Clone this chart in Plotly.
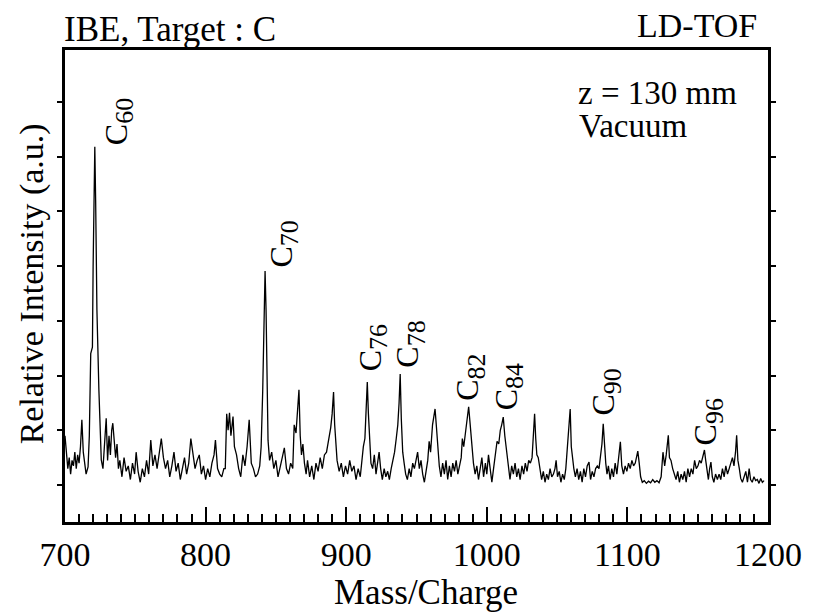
import plotly.graph_objects as go

# Laser-desorption TOF spectrum of the carbon target (mass/charge vs relative intensity)
mass = [
    700, 701, 702, 703, 704, 705, 706, 707, 708, 709, 710, 711, 712, 713, 714, 715,
    716.4, 717.3, 718.3, 719.5, 720.0, 720.9, 721.2, 721.8, 722.7, 724.1, 725.8,
    727, 728, 729.3, 730.3, 731.3, 732.3, 733.2, 734, 735, 736, 737, 738,
    739, 740.5, 742, 743.5, 745, 746.5, 748, 749.5, 750.6, 752, 753.5, 755, 756.5,
    758, 759.5, 761, 762.5, 764, 765.5, 767, 768.5, 770, 771.5, 773, 774.5, 776,
    777.5, 779, 780.5, 782, 783.5, 785, 786.5, 788, 789.5, 791, 792.5, 794, 795.5,
    797, 798.5, 800, 801.5, 803, 804.5, 806, 807, 808.5, 810, 811.5, 813,
    814, 815, 816, 817, 818, 819.5, 820.5, 822, 823.5, 825, 826.5, 828, 829.5, 831,
    832.5, 834, 835.5, 837, 838.5,
    839.5, 840.6, 841.5, 842.3, 843.0, 843.6, 844.4, 845.5,
    847, 848.5, 850, 851.5, 853, 854.5, 856, 857.5, 859, 860.5, 862,
    863, 864.3, 865.2, 866.4, 867.3, 868.2, 869.2, 870.3, 871.5,
    872.5, 874, 875.5, 877, 878.5, 880, 881.5, 883, 884.5,
    886, 887.5, 889, 890, 891, 891.8, 892.6, 893.5,
    895, 896.5, 898, 899.5, 901, 902.5, 904, 905.5, 907, 908.5, 910,
    911, 912.2, 913.3, 914.2, 915, 915.8, 916.6, 917.6,
    918.8, 920, 921.2, 922.3, 923.4, 924.5, 925.7, 927, 928.2, 929.5, 930.7, 932,
    933.3, 934.4, 935.6, 936.7, 937.6, 938.4, 939.2, 940.2, 941.2,
    942.3, 943.5, 944.8, 946, 947.3, 948.5, 949.8, 950.8, 952, 953.2, 954.4, 955.6, 956.8,
    958, 959, 960, 961.4, 962.3, 963.2, 964.2, 965.2, 966.2,
    967.4, 968.6, 969.8, 971, 972.2, 973.4, 974.6, 975.8, 977, 978.2, 979.4, 980.6,
    981.8, 982.6, 983.6, 984.8, 986, 987.1, 988.2, 989.4, 990.5,
    991.7, 992.9, 994.1, 995.3, 996.5, 997.7, 999, 1000, 1001.2, 1002.4, 1003.6, 1004.8,
    1006, 1007.3, 1008.5, 1009.6, 1010.6, 1011.7, 1012.8, 1014, 1015.3,
    1016.5, 1017.7, 1018.9, 1020.1, 1021.3, 1022.5, 1023.7, 1025, 1026.2, 1027.4, 1028.6,
    1029.8, 1031,
    1032.2, 1033.2, 1034, 1034.8, 1035.6, 1036.6, 1037.8,
    1039, 1040.2, 1041.4, 1042.6, 1043.8, 1045, 1046.2, 1047.4, 1048.5, 1049.3, 1050.3,
    1051.5, 1052.7, 1053.9, 1055.1, 1056.2,
    1057.5, 1058.4, 1059.3, 1060.1, 1061, 1061.9,
    1063, 1064.2, 1065.4, 1066.6, 1067.8, 1069, 1070.2, 1071.4, 1072.7, 1073.8, 1075,
    1076.2, 1077.4, 1078.6,
    1079.8, 1080.9, 1081.9, 1082.8, 1083.7, 1084.6, 1085.5,
    1086.5, 1087.7, 1088.9, 1090.1, 1091.3, 1092.5, 1093.7, 1095, 1096, 1097.2, 1098.4,
    1099.6, 1100.8, 1102, 1103.2, 1104.4, 1105.6, 1106.6, 1107.4, 1108.4, 1109.4,
    1110.6, 1112, 1113.5, 1115, 1116.5, 1118, 1119.5, 1121, 1122.5, 1124,
    1125.3, 1126.5, 1127.6, 1128.4, 1129.1, 1129.9, 1131, 1132.2,
    1133.4, 1134.6, 1135.8, 1137, 1138.2, 1139.4, 1140.6, 1141.8, 1143, 1144.2, 1145.4,
    1146.6, 1147.8, 1149,
    1150.2, 1151.3, 1152.5, 1153.7, 1154.8, 1155.7, 1156.7, 1157.6, 1158.5, 1159.4,
    1160.4, 1161.5, 1162.7, 1164, 1165.2,
    1166.4, 1167.6, 1168.8, 1170, 1171.2, 1172.4, 1173.6, 1174.7, 1175.8, 1176.9,
    1177.7, 1178.6, 1179.6, 1180.6,
    1181.8, 1183, 1184.2, 1185.4, 1186.6, 1187.6, 1188.8, 1190, 1191.2, 1192.4, 1193.6,
    1194.8, 1196, 1197.2,
]

intensity = [
    0.9, 0.55, 0.3, 0.5, 0.2, 0.45, 0.35, 0.6, 0.3, 0.55, 0.4, 0.7, 1.19, 0.6, 0.35, 0.2,
    0.33, 0.9, 2.4, 2.52, 4.0, 6.12, 6.18, 5.2, 3.2, 1.74, 0.46,
    0.3, 0.8, 1.22, 0.45, 0.9, 0.55, 1.0, 1.13, 0.85, 0.5, 0.75, 0.3,
    0.45, 0.15, 0.5, 0.25, 0.35, 0.1, 0.4, 0.2, 0.6, 0.25, 0.05, 0.3, 0.15,
    0.45, 0.2, 0.82, 0.35, 0.55, 0.3, 0.6, 0.85, 0.5, 0.3, 0.45, 0.15, 0.35,
    0.6, 0.25, 0.4, 0.1, 0.3, 0.5, 0.2, 0.4, 0.85, 0.55, 0.3, 0.45, 0.55,
    0.2, 0.35, 0.1, 0.3, 0.15, 0.4, 0.55, 0.82, 0.3, 0.2, 0.15, 0.3,
    0.3, 1.3, 1.0, 1.32, 0.9, 1.25, 0.7, 0.55, 0.3, 0.15, 0.55, 0.35, 0.7, 1.19,
    0.4, 0.3, 0.15, 0.2, 0.35,
    0.7, 1.7, 2.6, 3.91, 3.2, 1.9, 0.82, 0.45,
    0.6, 0.3, 0.45, 0.15, 0.3, 0.5, 0.68, 0.3, 0.2, 0.4, 0.3,
    1.1, 0.95, 1.3, 1.74, 0.9, 0.55, 0.75, 0.4, 0.2,
    0.45, 0.15, 0.35, 0.1, 0.4, 0.25, 0.5, 0.3, 0.55,
    0.6, 0.8, 1.05, 1.3, 1.70, 1.1, 0.8, 0.45,
    0.25, 0.4, 0.15, 0.35, 0.2, 0.45, 0.25, 0.35, 0.1, 0.3, 0.15,
    0.45, 0.7, 0.85, 1.3, 1.88, 1.3, 0.9, 0.4,
    0.3, 0.55, 0.2, 0.45, 0.6, 0.3, 0.1, 0.3, 0.15, 0.25, 0.1, 0.3,
    0.45, 0.6, 0.85, 1.1, 1.5, 2.03, 1.2, 0.6, 0.4,
    0.2, 0.1, 0.3, 0.15, 0.4, 0.3, 0.5, 0.6, 0.3, 0.45, 0.2, 0.05, 0.25,
    0.45, 0.8, 0.6, 1.1, 1.25, 1.39, 1.05, 0.6, 0.35,
    0.15, 0.4, 0.2, 0.45, 0.1, 0.35, 0.15, 0.4, 0.25, 0.45, 0.2, 0.35,
    0.5, 0.85, 0.7, 0.95, 1.2, 1.43, 1.1, 0.65, 0.4,
    0.2, 0.35, 0.1, 0.3, 0.5, 0.15, 0.4, 0.2, 0.55, 0.3, 0.05, 0.3,
    0.55, 0.8, 0.75, 1.0, 1.1, 1.24, 0.9, 0.6, 0.3,
    0.1, 0.35, 0.2, 0.4, 0.15, 0.3, 0.1, 0.35, 0.2, 0.4, 0.25,
    0.45, 0.4,
    0.5, 0.9, 1.30, 0.85, 0.55, 0.5, 0.25,
    0.1, 0.25, 0.05, 0.2, 0.1, 0.3, 0.15, 0.2, 0.3, 0.45, 0.15,
    0.25, 0.05, 0.2, 0.1, 0.3,
    0.8, 1.0, 1.39, 0.7, 0.45, 0.3,
    0.15, 0.3, 0.1, 0.25, 0.05, 0.3, 0.15, 0.35, 0.42, 0.1, 0.25,
    0.15, 0.3, 0.35,
    0.3, 0.55, 0.75, 1.12, 0.65, 0.4, 0.2,
    0.35, 0.1, 0.3, 0.15, 0.4, 0.2, 0.45, 0.79, 0.35, 0.2, 0.35,
    0.25, 0.4, 0.3, 0.45, 0.35, 0.4, 0.5, 0.62, 0.4, 0.15,
    0.05, 0.08, 0.03, 0.07, 0.04, 0.1, 0.05, 0.08, 0.04, 0.15,
    0.6, 0.35, 0.55, 0.7, 0.91, 0.5, 0.45, 0.3,
    0.2, 0.1, 0.25, 0.05, 0.2, 0.1, 0.25, 0.05, 0.3, 0.15, 0.3,
    0.2, 0.45, 0.3,
    0.35, 0.45, 0.4, 0.55, 0.64, 0.45, 0.25, 0.1, 0.3, 0.42,
    0.15, 0.05, 0.2, 0.1, 0.2,
    0.1, 0.3, 0.15, 0.35, 0.2, 0.3, 0.4, 0.5, 0.35, 0.6,
    0.91, 0.45, 0.3, 0.12,
    0.05, 0.15, 0.25, 0.05, 0.3, 0.1, 0.05, 0.15, 0.08, 0.1, 0.03,
    0.12, 0.05, 0.08,
]

# Cluster labels C_n and the (mass, intensity) point each label sits on
cluster_sizes = ["60", "70", "76", "78", "82", "84", "90", "96"]
label_mass = [738.3, 855.8, 919.0, 945.4, 988.3, 1015.8, 1084.7, 1157.1]
label_level = [6.18, 3.93, 2.05, 2.10, 1.50, 1.32, 1.24, 0.69]

SERIF = "Liberation Serif"
W, H = 814, 612
L, R, T, B = 65, 38, 50, 90
PW, PH = W - L - R, H - T - B


def px(xp):
    return (xp - L) / PW


def py(yp):
    return (H - B - yp) / PH


fig = go.Figure()
fig.add_trace(go.Scatter(
    x=mass, y=intensity, mode="lines",
    line=dict(color="black", width=1.3),
    hoverinfo="skip", showlegend=False,
))

annotations = []
for n, xm, yl in zip(cluster_sizes, label_mass, label_level):
    annotations.append(dict(
        x=xm, y=yl, xref="x", yref="y",
        text=f"C<sub><span style=\"font-size:26px\">{n}</span></sub>",
        textangle=-90, showarrow=False, xanchor="center", yanchor="bottom",
        font=dict(family=SERIF, size=32, color="black"),
    ))

text_items = [
    ("IBE, Target : C", 62, 30, "left", 35),
    ("LD-TOF", 767, 25, "right", 34),
    ("z = 130 mm", 582, 93, "left", 33),
    ("Vacuum", 583, 126, "left", 33),
]
for txt, xp, yp, anchor, size in text_items:
    annotations.append(dict(
        x=px(xp), y=py(yp), xref="paper", yref="paper", text=txt,
        showarrow=False, xanchor=anchor, yanchor="middle",
        font=dict(family=SERIF, size=size, color="black"),
    ))

annotations.append(dict(
    x=px(32), y=py(284), xref="paper", yref="paper",
    text="Relative Intensity (a.u.)", textangle=-90, showarrow=False,
    xanchor="center", yanchor="middle",
    font=dict(family=SERIF, size=34, color="black"),
))
annotations.append(dict(
    x=px(430), y=py(592), xref="paper", yref="paper",
    text="Mass/Charge", showarrow=False, xanchor="center", yanchor="middle",
    font=dict(family=SERIF, size=35, color="black"),
))

fig.update_layout(
    width=W, height=H,
    margin=dict(l=L, r=R, t=T, b=B, pad=0),
    paper_bgcolor="white", plot_bgcolor="white",
    annotations=annotations,
    xaxis=dict(
        range=[700, 1200], tick0=700, dtick=100,
        showline=True, linecolor="black", linewidth=2.5, mirror=True,
        ticks="inside", ticklen=15, tickwidth=2, tickcolor="black",
        minor=dict(dtick=10, ticks="inside", ticklen=8, tickwidth=2, tickcolor="black"),
        showgrid=False, zeroline=False,
        tickfont=dict(family=SERIF, size=34, color="black"),
    ),
    yaxis=dict(
        range=[-0.676, 7.95], tick0=0, dtick=1,
        showline=True, linecolor="black", linewidth=2.5, mirror="ticks",
        ticks="outside", ticklen=5, tickwidth=2, tickcolor="black",
        showticklabels=False, showgrid=False, zeroline=False,
    ),
)

fig.write_html("out.html")
